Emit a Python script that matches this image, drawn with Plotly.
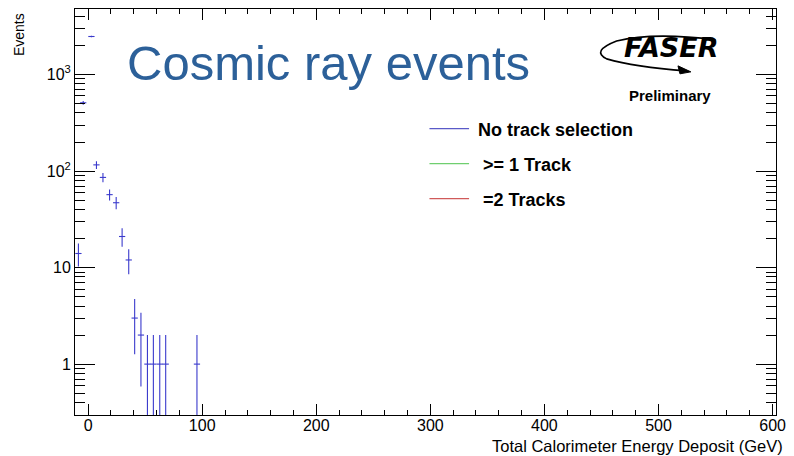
import numpy as np
import plotly.graph_objects as go

# ---- data ----
energy_gev = [-8.5, -4.3, 2.9, 7.3, 13.0, 18.8, 24.6, 29.8, 35.6, 40.8, 46.3, 52.0, 57.2, 62.8, 68.0, 95.4]
events = [14, 510, 2480, 116, 86, 57, 47, 21, 12, 3, 2, 1, 1, 1, 1, 1]
half_bin_gev = 2.75

x_tick_vals = [0, 100, 200, 300, 400, 500, 600]
y_tick_vals = [1, 10, 100, 1000]
y_tick_text = ["1", "10", "10<sup>2</sup>", "10<sup>3</sup>"]
legend_labels = ["No track selection", " >= 1 Track", " =2 Tracks"]
legend_colors = ["#5a5ac8", "#6fcf6f", "#d05a5a"]

W, H = 794, 456
L, R, T, B = 75, 11, 8, 41
PW, PH = W - L - R, H - T - B


def px(x):
    return (x - L) / PW


def py(y):
    return (H - B - y) / PH


err = np.sqrt(np.array(events, dtype=float))
err_minus = np.minimum(err, np.array(events, dtype=float) * 0.999)

fig = go.Figure()
fig.add_trace(go.Scatter(
    x=energy_gev, y=events, mode="markers",
    marker=dict(size=0.1, color="#3a3acc", opacity=0),
    error_y=dict(type="data", array=err, arrayminus=err_minus, width=0, thickness=1.1, color="#3a3acc"),
    error_x=dict(type="constant", value=half_bin_gev, width=0, thickness=1.1, color="#3a3acc"),
    showlegend=False, hoverinfo="x+y",
))

minor_y = [v * m for v in [0.1, 1, 10, 100, 1000] for m in range(2, 10)]
minor_y = [v for v in minor_y if 0.29 <= v <= 4800 and v not in y_tick_vals]

fig.update_layout(
    width=W, height=H,
    margin=dict(l=L, r=R, t=T, b=B),
    paper_bgcolor="white", plot_bgcolor="white",
    font=dict(family="Liberation Sans, Arial, sans-serif", color="black"),
    showlegend=False,
)
fig.update_xaxes(
    range=[-11.5, 603], showgrid=False, zeroline=False,
    showline=True, linecolor="black", linewidth=1, mirror="ticks",
    ticks="inside", ticklen=11, tickcolor="black", tickwidth=1,
    tickvals=x_tick_vals, tickfont=dict(size=16), ticklabelstandoff=-4,
    minor=dict(ticks="inside", ticklen=5, dtick=20, tick0=0, tickcolor="black", showgrid=False),
)
fig.update_yaxes(
    type="log", range=[np.log10(0.297), np.log10(4780)], showgrid=False, zeroline=False,
    showline=True, linecolor="black", linewidth=1, mirror="ticks",
    ticks="inside", ticklen=20, tickcolor="black", tickwidth=1,
    tickvals=y_tick_vals, ticktext=y_tick_text, tickfont=dict(size=16),
    minor=dict(ticks="inside", ticklen=10, tickvals=minor_y, tickcolor="black", showgrid=False),
)

ann = []
shapes = []
# title
ann.append(dict(text="Cosmic ray events", x=px(125), y=py(62), xref="paper", yref="paper",
                xanchor="left", yanchor="middle", showarrow=False,
                font=dict(size=49, color="#2c6099", family="Liberation Sans, Arial, sans-serif")))
# axis titles
ann.append(dict(text="Total Calorimeter Energy Deposit (GeV)", x=px(792), y=py(446), xref="paper", yref="paper",
                xanchor="right", yanchor="middle", showarrow=False, font=dict(size=16.5)))
ann.append(dict(text="Events", x=px(19), y=py(10), xref="paper", yref="paper", textangle=-90,
                xanchor="center", yanchor="top", showarrow=False, font=dict(size=14)))
# legend
leg_y = [128, 163, 198]
for lab, col, yy in zip(legend_labels, legend_colors, leg_y):
    shapes.append(dict(type="line", xref="paper", yref="paper", x0=px(433), x1=px(473), y0=py(yy), y1=py(yy),
                       line=dict(color=col, width=1.2)))
    txt = lab.replace(" ", "&nbsp;", 1) if lab.startswith(" ") else lab
    ann.append(dict(text="<b>%s</b>" % txt,
                    x=px(480), y=py(yy + 1.5), xref="paper", yref="paper",
                    xanchor="left", yanchor="middle", showarrow=False, font=dict(size=18)))
# FASER logo (approximation)
ann.append(dict(text="<b><i>FASER</i></b>", x=px(677), y=py(47), xref="paper", yref="paper",
                xanchor="center", yanchor="middle", showarrow=False,
                font=dict(size=27, family="DejaVu Sans, sans-serif", color="black")))
ann.append(dict(text="<b>Preliminary</b>", x=px(676), y=py(95), xref="paper", yref="paper",
                xanchor="center", yanchor="middle", showarrow=False, font=dict(size=15)))


def P(x, y):
    return "%.5f,%.5f" % (px(x), py(y))


swoosh = ("M " + P(722, 39) + " Q " + P(660, 31) + " " + P(622, 40) +
          " Q " + P(596, 50) + " " + P(612, 58) + " Q " + P(640, 66) + " " + P(692, 70))
shapes.append(dict(type="path", xref="paper", yref="paper", path=swoosh,
                   line=dict(color="black", width=1.6)))
arrow = "M " + P(697, 71) + " L " + P(684, 65) + " L " + P(686, 73) + " Z"
shapes.append(dict(type="path", xref="paper", yref="paper", path=arrow,
                   line=dict(color="black", width=1), fillcolor="black"))

fig.update_layout(annotations=ann, shapes=shapes)
fig.write_html("out.html")
